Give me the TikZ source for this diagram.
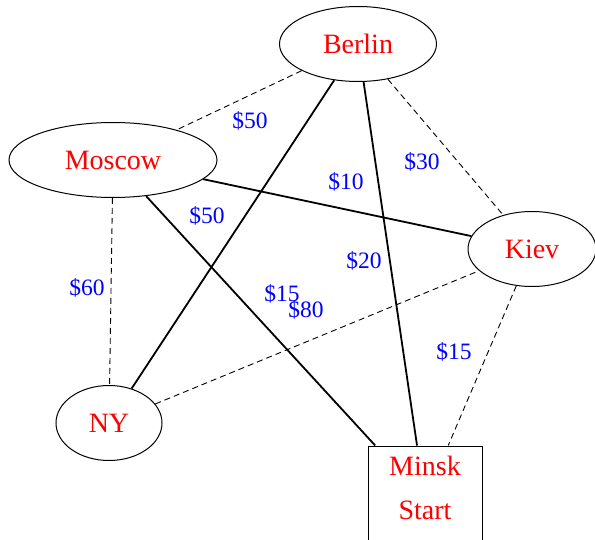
\documentclass[tikz,border=0pt]{standalone}
\usepackage{fontspec}
\setmainfont{Liberation Serif}
\usetikzlibrary{shapes.geometric}
\begin{document}
\begin{tikzpicture}[x=1pt,y=-1pt,
  city/.style={ellipse, draw, line width=1pt, inner sep=0pt, minimum height=75pt, text=red, font=\fontsize{28}{32}\selectfont},
  minskbox/.style={rectangle, draw, line width=1pt, minimum width=114pt, minimum height=108pt},
  cityname/.style={text=red, font=\fontsize{28}{44}\selectfont, align=center},
  cost/.style={text=blue, font=\fontsize{23.5}{28}\selectfont, inner sep=0pt},
  road/.style={line width=1.8pt},
  alt/.style={line width=0.9pt, dash pattern=on 6pt off 4pt}]
\useasboundingbox (0,0) rectangle (595,540);
\node[city, minimum width=157pt] (berlin) at (358,44) {Berlin};
\node[city, minimum width=208pt] (moscow) at (113,160) {Moscow};
\node[city, minimum width=128pt] (kiev) at (532,249) {Kiev};
\node[city, minimum width=106pt] (ny) at (109,423) {NY};
\node[minskbox] (minsk) at (425,500) {};
\node[cityname] (minsktext) at (425,488) {Minsk\\Start};
% solid roads
\draw[road] (berlin) -- (ny);
\draw[road] (berlin) -- (minsk);
\draw[road] (moscow) -- (kiev);
\draw[road] (moscow) -- (minsk);
% dashed roads
\draw[alt] (berlin) -- (moscow);
\draw[alt] (berlin) -- (kiev);
\draw[alt] (moscow) -- (ny);
\draw[alt] (ny) -- (kiev);
\draw[alt] (kiev) -- (minsk);
% costs
\node[cost] (c1) at (250,121) {\$50};
\node[cost] (c2) at (422,162) {\$30};
\node[cost] (c3) at (346,182) {\$10};
\node[cost] (c4) at (207,216) {\$50};
\node[cost] (c5) at (87,288) {\$60};
\node[cost] (c6) at (364,261) {\$20};
\node[cost] (c7) at (282,294) {\$15};
\node[cost] (c8) at (306,310) {\$80};
\node[cost] (c9) at (454,352) {\$15};
\end{tikzpicture}
\end{document}
